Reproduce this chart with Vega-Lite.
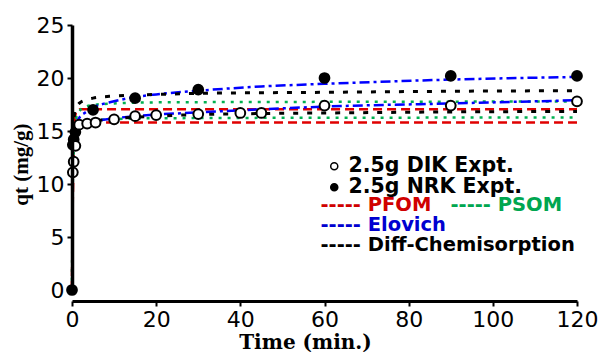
{
  "$schema": "https://vega.github.io/schema/vega-lite/v6.json",
  "width": 505,
  "height": 265,
  "autosize": "none",
  "padding": {"left": 72, "top": 25, "right": 25, "bottom": 62},
  "background": "white",
  "config": {
    "view": {"stroke": null},
    "axis": {"grid": false},
    "legend": {"title": null, "orient": "none", "labelFont": "DejaVu Sans", "labelFontWeight": "bold", "labelLimit": 400}
  },
  "resolve": {"scale": {"color": "independent"}, "legend": {"color": "independent"}},
  "datasets": {
    "expt": [
      {"t": 0, "q": 0, "sample": "2.5g NRK Expt."},
      {"t": 0.2, "q": 13.7, "sample": "2.5g NRK Expt."},
      {"t": 0.4, "q": 14.2, "sample": "2.5g NRK Expt."},
      {"t": 0.8, "q": 14.9, "sample": "2.5g NRK Expt."},
      {"t": 5, "q": 17.0, "sample": "2.5g NRK Expt."},
      {"t": 15, "q": 18.1, "sample": "2.5g NRK Expt."},
      {"t": 30, "q": 18.9, "sample": "2.5g NRK Expt."},
      {"t": 60, "q": 20.0, "sample": "2.5g NRK Expt."},
      {"t": 90, "q": 20.2, "sample": "2.5g NRK Expt."},
      {"t": 120, "q": 20.2, "sample": "2.5g NRK Expt."},
      {"t": 0.2, "q": 11.1, "sample": "2.5g DIK Expt."},
      {"t": 0.4, "q": 12.1, "sample": "2.5g DIK Expt."},
      {"t": 0.8, "q": 13.6, "sample": "2.5g DIK Expt."},
      {"t": 1.7, "q": 15.6, "sample": "2.5g DIK Expt."},
      {"t": 3.6, "q": 15.7, "sample": "2.5g DIK Expt."},
      {"t": 5.6, "q": 15.8, "sample": "2.5g DIK Expt."},
      {"t": 10, "q": 16.1, "sample": "2.5g DIK Expt."},
      {"t": 15, "q": 16.4, "sample": "2.5g DIK Expt."},
      {"t": 20, "q": 16.5, "sample": "2.5g DIK Expt."},
      {"t": 30, "q": 16.6, "sample": "2.5g DIK Expt."},
      {"t": 40, "q": 16.7, "sample": "2.5g DIK Expt."},
      {"t": 45, "q": 16.7, "sample": "2.5g DIK Expt."},
      {"t": 60, "q": 17.4, "sample": "2.5g DIK Expt."},
      {"t": 90, "q": 17.4, "sample": "2.5g DIK Expt."},
      {"t": 120, "q": 17.8, "sample": "2.5g DIK Expt."}
    ],
    "model": [
      {"t": 0, "q": 0, "model": "PFOM", "sample": "NRK"},
      {"t": 0.25, "q": 11.0, "model": "PFOM", "sample": "NRK"},
      {"t": 0.5, "q": 14.9, "model": "PFOM", "sample": "NRK"},
      {"t": 1, "q": 16.8, "model": "PFOM", "sample": "NRK"},
      {"t": 2, "q": 17.05, "model": "PFOM", "sample": "NRK"},
      {"t": 120, "q": 17.05, "model": "PFOM", "sample": "NRK"},
      {"t": 0, "q": 0, "model": "PFOM", "sample": "DIK"},
      {"t": 0.25, "q": 10.5, "model": "PFOM", "sample": "DIK"},
      {"t": 0.5, "q": 14.0, "model": "PFOM", "sample": "DIK"},
      {"t": 1, "q": 15.6, "model": "PFOM", "sample": "DIK"},
      {"t": 2, "q": 15.8, "model": "PFOM", "sample": "DIK"},
      {"t": 120, "q": 15.8, "model": "PFOM", "sample": "DIK"},
      {"t": 0, "q": 0, "model": "PSOM", "sample": "NRK"},
      {"t": 0.25, "q": 12.5, "model": "PSOM", "sample": "NRK"},
      {"t": 0.5, "q": 14.8, "model": "PSOM", "sample": "NRK"},
      {"t": 1, "q": 16.2, "model": "PSOM", "sample": "NRK"},
      {"t": 2, "q": 17.0, "model": "PSOM", "sample": "NRK"},
      {"t": 3, "q": 17.25, "model": "PSOM", "sample": "NRK"},
      {"t": 5, "q": 17.45, "model": "PSOM", "sample": "NRK"},
      {"t": 10, "q": 17.6, "model": "PSOM", "sample": "NRK"},
      {"t": 20, "q": 17.7, "model": "PSOM", "sample": "NRK"},
      {"t": 60, "q": 17.75, "model": "PSOM", "sample": "NRK"},
      {"t": 120, "q": 17.78, "model": "PSOM", "sample": "NRK"},
      {"t": 0, "q": 0, "model": "PSOM", "sample": "DIK"},
      {"t": 0.25, "q": 11.5, "model": "PSOM", "sample": "DIK"},
      {"t": 0.5, "q": 13.6, "model": "PSOM", "sample": "DIK"},
      {"t": 1, "q": 14.9, "model": "PSOM", "sample": "DIK"},
      {"t": 2, "q": 15.6, "model": "PSOM", "sample": "DIK"},
      {"t": 3, "q": 15.85, "model": "PSOM", "sample": "DIK"},
      {"t": 5, "q": 16.0, "model": "PSOM", "sample": "DIK"},
      {"t": 10, "q": 16.12, "model": "PSOM", "sample": "DIK"},
      {"t": 20, "q": 16.2, "model": "PSOM", "sample": "DIK"},
      {"t": 60, "q": 16.25, "model": "PSOM", "sample": "DIK"},
      {"t": 120, "q": 16.27, "model": "PSOM", "sample": "DIK"},
      {"t": 0.1, "q": 13.6, "model": "Elovich", "sample": "NRK"},
      {"t": 0.25, "q": 14.5, "model": "Elovich", "sample": "NRK"},
      {"t": 0.5, "q": 15.1, "model": "Elovich", "sample": "NRK"},
      {"t": 1, "q": 15.7, "model": "Elovich", "sample": "NRK"},
      {"t": 2, "q": 16.4, "model": "Elovich", "sample": "NRK"},
      {"t": 3, "q": 16.7, "model": "Elovich", "sample": "NRK"},
      {"t": 5, "q": 17.2, "model": "Elovich", "sample": "NRK"},
      {"t": 10, "q": 17.8, "model": "Elovich", "sample": "NRK"},
      {"t": 15, "q": 18.2, "model": "Elovich", "sample": "NRK"},
      {"t": 20, "q": 18.45, "model": "Elovich", "sample": "NRK"},
      {"t": 30, "q": 18.8, "model": "Elovich", "sample": "NRK"},
      {"t": 45, "q": 19.2, "model": "Elovich", "sample": "NRK"},
      {"t": 60, "q": 19.45, "model": "Elovich", "sample": "NRK"},
      {"t": 90, "q": 19.85, "model": "Elovich", "sample": "NRK"},
      {"t": 120, "q": 20.1, "model": "Elovich", "sample": "NRK"},
      {"t": 0.25, "q": 13.8, "model": "Elovich", "sample": "DIK"},
      {"t": 0.5, "q": 14.5, "model": "Elovich", "sample": "DIK"},
      {"t": 1, "q": 15.1, "model": "Elovich", "sample": "DIK"},
      {"t": 2, "q": 15.5, "model": "Elovich", "sample": "DIK"},
      {"t": 3, "q": 15.7, "model": "Elovich", "sample": "DIK"},
      {"t": 5, "q": 15.9, "model": "Elovich", "sample": "DIK"},
      {"t": 10, "q": 16.2, "model": "Elovich", "sample": "DIK"},
      {"t": 15, "q": 16.4, "model": "Elovich", "sample": "DIK"},
      {"t": 20, "q": 16.55, "model": "Elovich", "sample": "DIK"},
      {"t": 30, "q": 16.75, "model": "Elovich", "sample": "DIK"},
      {"t": 45, "q": 17.05, "model": "Elovich", "sample": "DIK"},
      {"t": 60, "q": 17.3, "model": "Elovich", "sample": "DIK"},
      {"t": 90, "q": 17.6, "model": "Elovich", "sample": "DIK"},
      {"t": 120, "q": 17.9, "model": "Elovich", "sample": "DIK"},
      {"t": 0.25, "q": 15.0, "model": "Diff-Chemisorption", "sample": "NRK"},
      {"t": 0.5, "q": 16.3, "model": "Diff-Chemisorption", "sample": "NRK"},
      {"t": 1, "q": 17.2, "model": "Diff-Chemisorption", "sample": "NRK"},
      {"t": 2, "q": 17.7, "model": "Diff-Chemisorption", "sample": "NRK"},
      {"t": 3, "q": 17.9, "model": "Diff-Chemisorption", "sample": "NRK"},
      {"t": 5, "q": 18.1, "model": "Diff-Chemisorption", "sample": "NRK"},
      {"t": 10, "q": 18.3, "model": "Diff-Chemisorption", "sample": "NRK"},
      {"t": 20, "q": 18.45, "model": "Diff-Chemisorption", "sample": "NRK"},
      {"t": 30, "q": 18.55, "model": "Diff-Chemisorption", "sample": "NRK"},
      {"t": 60, "q": 18.65, "model": "Diff-Chemisorption", "sample": "NRK"},
      {"t": 90, "q": 18.75, "model": "Diff-Chemisorption", "sample": "NRK"},
      {"t": 120, "q": 18.8, "model": "Diff-Chemisorption", "sample": "NRK"},
      {"t": 0.25, "q": 13.5, "model": "Diff-Chemisorption", "sample": "DIK"},
      {"t": 0.5, "q": 14.6, "model": "Diff-Chemisorption", "sample": "DIK"},
      {"t": 1, "q": 15.2, "model": "Diff-Chemisorption", "sample": "DIK"},
      {"t": 2, "q": 15.6, "model": "Diff-Chemisorption", "sample": "DIK"},
      {"t": 3, "q": 15.75, "model": "Diff-Chemisorption", "sample": "DIK"},
      {"t": 5, "q": 15.9, "model": "Diff-Chemisorption", "sample": "DIK"},
      {"t": 10, "q": 16.15, "model": "Diff-Chemisorption", "sample": "DIK"},
      {"t": 20, "q": 16.4, "model": "Diff-Chemisorption", "sample": "DIK"},
      {"t": 30, "q": 16.55, "model": "Diff-Chemisorption", "sample": "DIK"},
      {"t": 45, "q": 16.65, "model": "Diff-Chemisorption", "sample": "DIK"},
      {"t": 60, "q": 16.7, "model": "Diff-Chemisorption", "sample": "DIK"},
      {"t": 90, "q": 16.8, "model": "Diff-Chemisorption", "sample": "DIK"},
      {"t": 120, "q": 16.85, "model": "Diff-Chemisorption", "sample": "DIK"}
    ]
  },
  "encoding": {
    "x": {
      "field": "t", "type": "quantitative",
      "scale": {"domain": [0, 120], "nice": false, "zero": false},
      "axis": {
        "title": "Time (min.)", "values": [0, 20, 40, 60, 80, 100, 120],
        "offset": 11, "zindex": 1, "domainColor": "black", "domainWidth": 3,
        "tickColor": "black", "tickSize": 5, "tickWidth": 2,
        "labelFont": "DejaVu Sans", "labelFontSize": 22, "labelColor": "black",
        "labelPadding": 3, "labelFlush": false,
        "titleFont": "DejaVu Serif", "titleFontWeight": "bold", "titleFontSize": 20,
        "titleColor": "black", "titlePadding": 2, "titleX": 233, "titleAlign": "center"
      }
    },
    "y": {
      "field": "q", "type": "quantitative",
      "scale": {"domain": [0, 25], "nice": false},
      "axis": {
        "title": "qt (mg/g)", "values": [0, 5, 10, 15, 20, 25],
        "zindex": 1, "domainColor": "black", "domainWidth": 3.5,
        "tickColor": "black", "tickSize": 5, "tickWidth": 2,
        "labelFont": "DejaVu Sans", "labelFontSize": 22, "labelColor": "black",
        "labelPadding": 3,
        "titleFont": "Liberation Serif", "titleFontWeight": "bold", "titleFontSize": 21,
        "titleColor": "black", "titleX": -51, "titleY": 139, "titleAlign": "center",
        "titleBaseline": "middle", "titleAngle": 270
      }
    }
  },
  "layer": [
    {
      "data": {"name": "model"},
      "transform": [{"filter": "datum.model == 'PFOM'"}],
      "mark": {"type": "line", "strokeDash": [9, 5], "strokeWidth": 2.5, "interpolate": "monotone"},
      "encoding": {
        "detail": {"field": "sample"},
        "color": {"field": "model", "type": "nominal",
          "scale": {"domain": ["PFOM"], "range": ["#e00000"]},
          "legend": {"legendX": 229, "legendY": 170.5, "symbolSize": 0, "symbolOpacity": 0,
            "labelOffset": 0, "labelFontSize": 19.5, "labelColor": "#d00000",
            "labelExpr": "'----- ' + datum.label"}
        }
      }
    },
    {
      "data": {"name": "model"},
      "transform": [{"filter": "datum.model == 'PSOM'"}],
      "mark": {"type": "line", "strokeDash": [3, 6], "strokeWidth": 2.5, "interpolate": "monotone"},
      "encoding": {
        "detail": {"field": "sample"},
        "color": {"field": "model", "type": "nominal",
          "scale": {"domain": ["PSOM"], "range": ["#00b050"]},
          "legend": {"legendX": 359, "legendY": 170.5, "symbolSize": 0, "symbolOpacity": 0,
            "labelOffset": 0, "labelFontSize": 19.5, "labelColor": "#00a650",
            "labelExpr": "'----- ' + datum.label"}
        }
      }
    },
    {
      "data": {"name": "model"},
      "transform": [{"filter": "datum.model == 'Elovich'"}],
      "mark": {"type": "line", "strokeDash": [10, 4, 3, 4], "strokeWidth": 2.5, "interpolate": "monotone"},
      "encoding": {
        "detail": {"field": "sample"},
        "color": {"field": "model", "type": "nominal",
          "scale": {"domain": ["Elovich"], "range": ["#0000ff"]},
          "legend": {"legendX": 229, "legendY": 190.5, "symbolSize": 0, "symbolOpacity": 0,
            "labelOffset": 0, "labelFontSize": 19.5, "labelColor": "#0000d0",
            "labelExpr": "'----- ' + datum.label"}
        }
      }
    },
    {
      "data": {"name": "model"},
      "transform": [{"filter": "datum.model == 'Diff-Chemisorption'"}],
      "mark": {"type": "line", "strokeDash": [5, 9], "strokeWidth": 3, "interpolate": "monotone"},
      "encoding": {
        "detail": {"field": "sample"},
        "color": {"field": "model", "type": "nominal",
          "scale": {"domain": ["Diff-Chemisorption"], "range": ["#000000"]},
          "legend": {"legendX": 229, "legendY": 210.5, "symbolSize": 0, "symbolOpacity": 0,
            "labelOffset": 0, "labelFontSize": 19.5, "labelColor": "#000000",
            "labelExpr": "'----- ' + datum.label"}
        }
      }
    },
    {
      "data": {"name": "expt"},
      "mark": {"type": "point", "shape": "circle", "filled": true, "size": 95, "stroke": "black", "strokeWidth": 2, "opacity": 1},
      "encoding": {
        "fill": {"field": "sample", "type": "nominal",
          "scale": {"domain": ["2.5g DIK Expt.", "2.5g NRK Expt."], "range": ["#ffffff", "#000000"]},
          "legend": {"legendX": 252, "legendY": 131, "symbolType": "circle",
            "symbolSize": 50, "symbolStrokeColor": "black", "symbolStrokeWidth": 1.5,
            "labelOffset": 4, "labelFontSize": 20.5, "labelColor": "black", "rowPadding": -1.5}
        }
      }
    }
  ]
}
